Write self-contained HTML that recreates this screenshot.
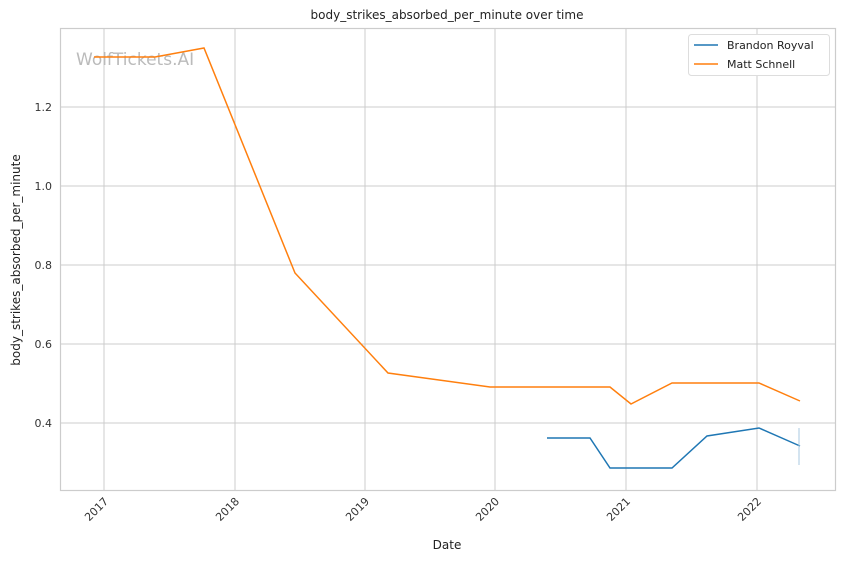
<!DOCTYPE html>
<html><head><style>body{margin:0;background:#fff}svg{display:block;font-family:"DejaVu Sans","Liberation Sans",sans-serif}</style></head><body>
<svg width="844" height="561" viewBox="0 0 844 561">
<rect width="844" height="561" fill="#fff"/>
<g stroke="#cccccc" stroke-width="1">
<line x1="104" y1="28" x2="104" y2="490"/><line x1="235" y1="28" x2="235" y2="490"/><line x1="365" y1="28" x2="365" y2="490"/><line x1="495" y1="28" x2="495" y2="490"/><line x1="626" y1="28" x2="626" y2="490"/><line x1="757" y1="28" x2="757" y2="490"/>
<line x1="60" y1="423" x2="835" y2="423"/><line x1="60" y1="344" x2="835" y2="344"/><line x1="60" y1="265" x2="835" y2="265"/><line x1="60" y1="186" x2="835" y2="186"/><line x1="60" y1="107" x2="835" y2="107"/>
</g>
<rect x="60.5" y="28.5" width="775" height="462" fill="none" stroke="#cccccc" stroke-width="1.2"/>
<text x="76" y="65" font-size="17" fill="#bbbbbb">WolfTickets.AI</text>
<polyline fill="none" stroke="#ff7f0e" stroke-width="1.5" points="94,57 155,57 204,48 295,273 388,373 490,387 610,387 631,404 672,383 759,383 800,401"/>
<polyline fill="none" stroke="#1f77b4" stroke-width="1.5" points="547,438 590,438 610,468 672,468 707,436 759,428 800,446"/>
<line x1="799" y1="428" x2="799" y2="465" stroke="#a8c8e0" stroke-width="1"/>
<g font-size="11" fill="#333" text-anchor="end">
<text x="52" y="427">0.4</text><text x="52" y="348">0.6</text><text x="52" y="269">0.8</text><text x="52" y="190">1.0</text><text x="52" y="111">1.2</text>
</g>
<g font-size="11" fill="#333" text-anchor="end">
<text transform="translate(109,502) rotate(-45)">2017</text>
<text transform="translate(240,502) rotate(-45)">2018</text>
<text transform="translate(370,502) rotate(-45)">2019</text>
<text transform="translate(500,502) rotate(-45)">2020</text>
<text transform="translate(631,502) rotate(-45)">2021</text>
<text transform="translate(762,502) rotate(-45)">2022</text>
</g>
<text x="447" y="549" font-size="12" fill="#222" text-anchor="middle">Date</text>
<text transform="translate(20,260) rotate(-90)" font-size="12" fill="#222" text-anchor="middle">body_strikes_absorbed_per_minute</text>
<text x="447" y="19" font-size="12" fill="#222" text-anchor="middle">body_strikes_absorbed_per_minute over time</text>
<rect x="688.5" y="34.5" width="141" height="41" rx="3" fill="#fff" stroke="#ddd"/>
<line x1="694" y1="45" x2="718" y2="45" stroke="#1f77b4" stroke-width="1.5"/>
<line x1="694" y1="64" x2="718" y2="64" stroke="#ff7f0e" stroke-width="1.5"/>
<text x="727" y="49" font-size="11" fill="#222">Brandon Royval</text>
<text x="727" y="68" font-size="11" fill="#222">Matt Schnell</text>
</svg>
</body></html>
